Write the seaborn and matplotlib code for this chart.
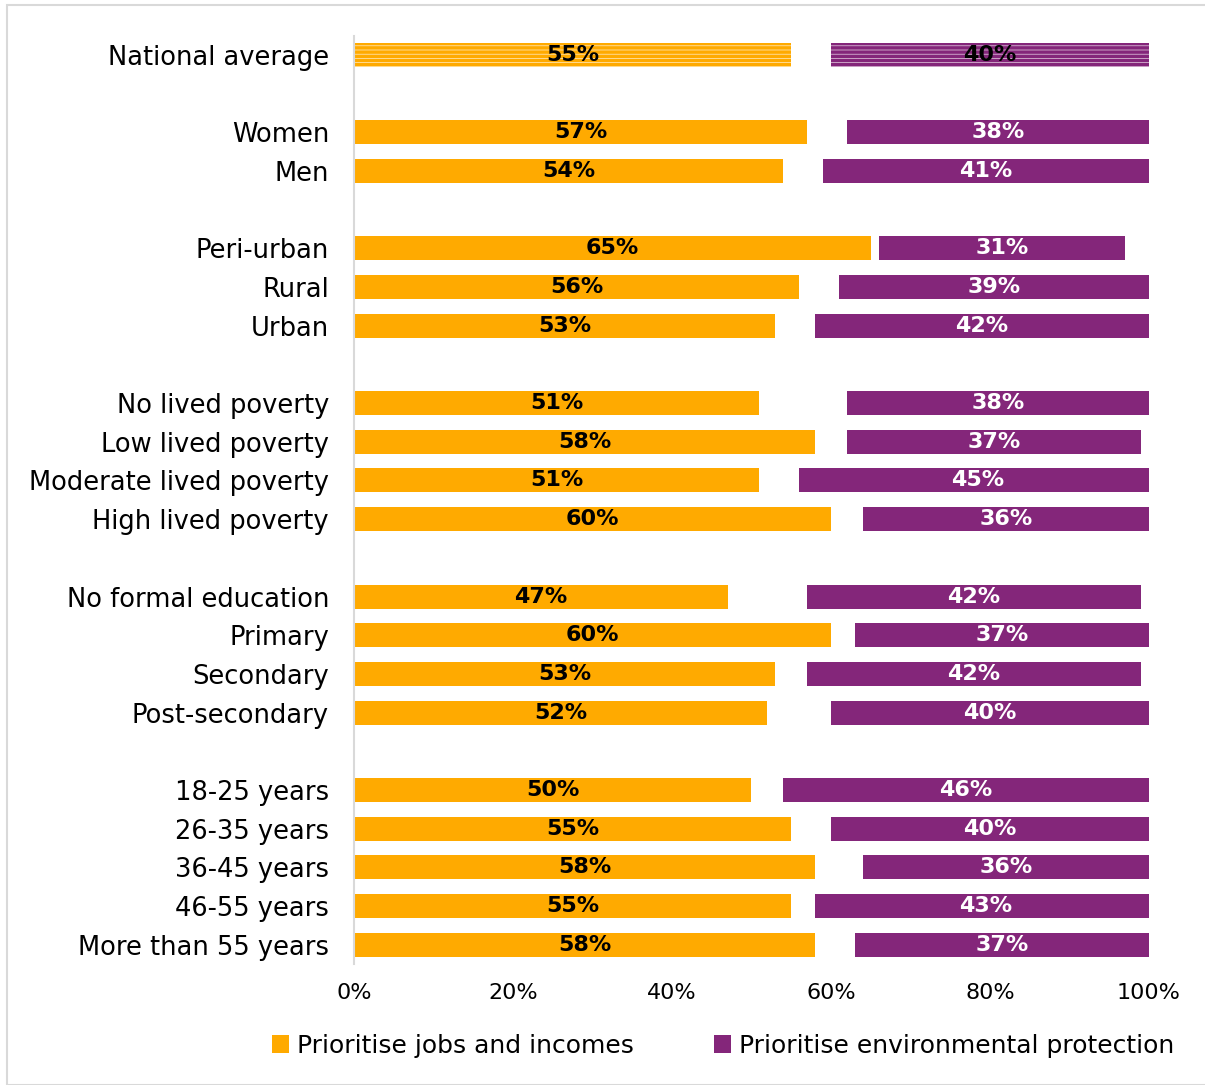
import matplotlib
matplotlib.use("Agg")
import matplotlib.pyplot as plt
from matplotlib.patches import Patch, Rectangle
import seaborn as sns
import pandas as pd

# ---- data ----
categories = ["National average", "Women", "Men", "Peri-urban", "Rural", "Urban",
              "No lived poverty", "Low lived poverty", "Moderate lived poverty",
              "High lived poverty", "No formal education", "Primary", "Secondary",
              "Post-secondary", "18-25 years", "26-35 years", "36-45 years",
              "46-55 years", "More than 55 years"]
jobs = [55, 57, 54, 65, 56, 53, 51, 58, 51, 60, 47, 60, 53, 52, 50, 55, 58, 55, 58]
neither = [5, 5, 5, 1, 5, 5, 11, 4, 5, 4, 10, 3, 4, 8, 4, 5, 6, 3, 5]
environment = [40, 38, 41, 31, 39, 42, 38, 37, 45, 36, 42, 37, 42, 40, 46, 40, 36, 43, 37]
groups = [["National average"], ["Women", "Men"], ["Peri-urban", "Rural", "Urban"],
          ["No lived poverty", "Low lived poverty", "Moderate lived poverty", "High lived poverty"],
          ["No formal education", "Primary", "Secondary", "Post-secondary"],
          ["18-25 years", "26-35 years", "36-45 years", "46-55 years", "More than 55 years"]]
legend_labels = ["Prioritise jobs and incomes", "Prioritise environmental protection"]
xticks = [0, 20, 40, 60, 80, 100]

ORANGE = "#FFAA00"
PURPLE = "#84267A"

order = []
for i, g in enumerate(groups):
    if i > 0:
        order.append(" " * i)
    order.extend(g)

df = pd.DataFrame({"label": categories, "jobs": jobs, "neither": neither, "env": environment})
df["start"] = df["jobs"] + df["neither"]
df["end"] = df["start"] + df["env"]
nat = df[df["label"] == "National average"]
rest = df[df["label"] != "National average"]

sns.set_style("white")
plt.rcParams["font.family"] = ["DejaVu Sans"]
plt.rcParams["hatch.linewidth"] = 2.6
plt.rcParams["text.color"] = "black"
plt.rcParams["xtick.color"] = "black"
plt.rcParams["ytick.color"] = "black"

fig = plt.figure(figsize=(12.05, 10.85), dpi=100)
ax = fig.add_axes([0.2938, 0.1115, 0.6597, 0.8557])

W = 0.62
# regular rows: purple full, white cover for gap, orange on top
sns.barplot(data=rest, y="label", x="end", order=order, color=PURPLE, width=W,
            saturation=1, linewidth=0, ax=ax, orient="h")
sns.barplot(data=rest, y="label", x="start", order=order, color="white", width=W,
            saturation=1, linewidth=0, ax=ax, orient="h")
sns.barplot(data=rest, y="label", x="jobs", order=order, color=ORANGE, width=W,
            saturation=1, linewidth=0, ax=ax, orient="h")
# national average: hatched
sns.barplot(data=nat, y="label", x="end", order=order, color="white", width=W,
            saturation=1, linewidth=0, edgecolor=PURPLE, hatch="----", ax=ax, orient="h")
sns.barplot(data=nat, y="label", x="start", order=order, color="white", width=W,
            saturation=1, linewidth=0, ax=ax, orient="h")
sns.barplot(data=nat, y="label", x="jobs", order=order, color="white", width=W,
            saturation=1, linewidth=0, edgecolor=ORANGE, hatch="----", ax=ax, orient="h")

# value labels
for _, r in df.iterrows():
    y = order.index(r["label"])
    is_nat = r["label"] == "National average"
    ax.text(r["jobs"] / 2, y, f"{r['jobs']}%", ha="center", va="center",
            fontsize=16, fontweight="bold", color="black")
    ax.text(r["start"] + r["env"] / 2, y, f"{r['env']}%", ha="center", va="center",
            fontsize=16, fontweight="bold", color="black" if is_nat else "white")

ax.set_xlim(0, 100)
ax.set_ylim(len(order) - 0.5, -0.5)
ax.set_xticks(xticks)
ax.set_xticklabels([f"{t}%" for t in xticks], fontsize=16)
ax.set_xlabel("")
ax.set_ylabel("")
ax.tick_params(axis="y", labelsize=18.5, length=0, pad=18)
ax.tick_params(axis="x", length=0, pad=14)
for s in ["top", "right", "bottom"]:
    ax.spines[s].set_visible(False)
ax.spines["left"].set_color("#D9D9D9")
ax.spines["left"].set_linewidth(1.5)

handles = [Patch(facecolor=ORANGE, edgecolor="none"), Patch(facecolor=PURPLE, edgecolor="none")]
fig.legend(handles, legend_labels, loc="center", bbox_to_anchor=(0.6, 0.036), ncol=2,
           frameon=False, fontsize=18, handlelength=0.7, handleheight=0.7,
           handletextpad=0.3, columnspacing=3.2)

fig.patches.append(Rectangle((0.006, 0.0), 1.0, 0.995, transform=fig.transFigure,
                             fill=False, edgecolor="#D9D9D9", linewidth=1.5))

fig.savefig("out.png", dpi=100, facecolor="white")
